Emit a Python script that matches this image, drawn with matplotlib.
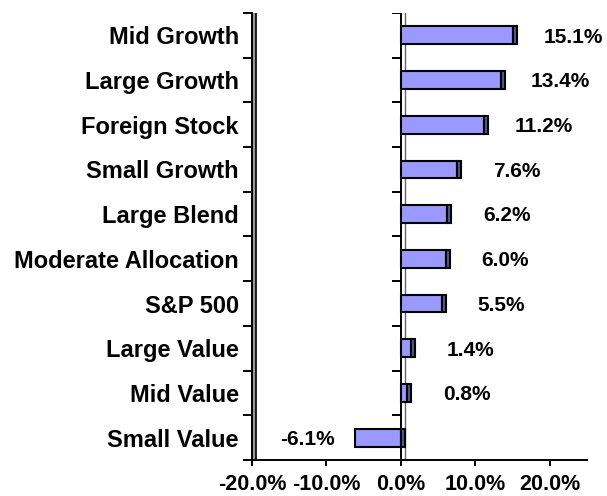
import matplotlib
matplotlib.use("Agg")
import matplotlib.pyplot as plt
import numpy as np
from matplotlib.ticker import FuncFormatter, FixedLocator

categories = ["Mid Growth", "Large Growth", "Foreign Stock", "Small Growth", "Large Blend",
              "Moderate Allocation", "S&P 500", "Large Value", "Mid Value", "Small Value"]
returns = [15.1, 13.4, 11.2, 7.6, 6.2, 6.0, 5.5, 1.4, 0.8, -6.1]
x_ticks = [-20, -10, 0, 10, 20]

plt.rcParams['font.family'] = ['Liberation Sans', 'DejaVu Sans']
plt.rcParams['font.weight'] = 'bold'

fig = plt.figure(figsize=(6.07, 4.96), dpi=100)
ax = fig.add_axes([252/607, 36/496, 335/607, 447/496])

y = np.arange(len(categories))
BAR_H = 0.4
DEPTH = 0.54   # width of the 3d side face, in data units
XMIN, XMAX = -20, 25

# walls (left side wall + the one at zero)
ax.axvspan(XMIN, XMIN + DEPTH, color='#9a9a9a', lw=0, zorder=1)
ax.axvline(XMIN + DEPTH, color='black', lw=1.2, zorder=1)
ax.axvline(0, color='black', lw=1.4, zorder=1)
ax.axvline(DEPTH, color='#666666', lw=1.0, zorder=1)

# ticks on the zero wall at the category boundaries
bounds = np.arange(len(categories) + 1) - 0.5
ax.hlines(bounds[:-1], -1.2, 0, color='black', lw=1.4, zorder=2)

# bars: front face + dark side face at the outer end
ax.barh(y, returns, height=BAR_H, color='#9999FF', edgecolor='black', lw=1.5, zorder=3)
cap_left = [max(v, 0) for v in returns]
ax.barh(y, DEPTH, left=cap_left, height=BAR_H, color='#55559F', edgecolor='black', lw=1.5, zorder=3)

for yi, v in zip(y, returns):
    lx = v + 8 if v > 0 else v - 6.4
    ax.text(lx, yi + 0.04, f"{v:.1f}%", ha='center', va='center', fontsize=15, fontweight='bold')

ax.set_xlim(XMIN, XMAX)
ax.set_ylim(len(categories) - 0.5, -0.5)

ax.set_xticks(x_ticks)
ax.xaxis.set_major_formatter(FuncFormatter(lambda v, p: f"{v:.1f}%"))
ax.tick_params(axis='x', length=4.3, width=1.4, pad=6, labelsize=15.5)

ax.yaxis.set_major_locator(FixedLocator(bounds))
ax.yaxis.set_major_formatter(FuncFormatter(lambda v, p: ""))
ax.yaxis.set_minor_locator(FixedLocator(y))
ax.set_yticklabels(categories, minor=True)
ax.tick_params(axis='y', which='major', length=6.5, width=1.4)
ax.tick_params(axis='y', which='minor', length=0, pad=9.5, labelsize=17)

for s in ['top', 'right']:
    ax.spines[s].set_visible(False)
for s in ['left', 'bottom']:
    ax.spines[s].set_linewidth(1.4)

fig.savefig("out.png", dpi=100)
